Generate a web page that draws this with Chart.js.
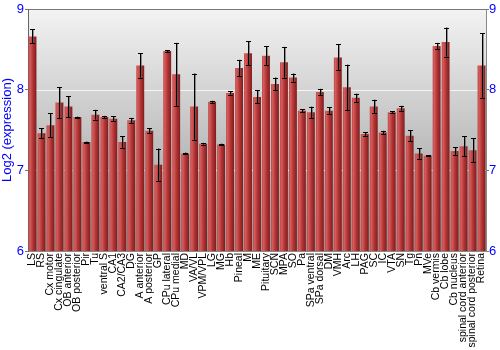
<!DOCTYPE html>
<html>
<head>
<meta charset="utf-8">
<script src="https://cdn.jsdelivr.net/npm/chart.js@4/dist/chart.umd.min.js"></script>
<style>
html,body{margin:0;padding:0;background:#fff;}
#wrap{width:500px;height:350px;}
</style>
</head>
<body>
<div id="wrap"><canvas id="c" width="500" height="350"></canvas></div>
<script>
const categories = ["LS","RS","Cx motor","Cx cingulate","OB anterior","OB posterior","Pir","Tu","ventral S","CA1","CA2/CA3","DG","A anterior","A posterior","GP","CPu lateral","CPu medial","MD","VA/VL","VPM/VPL","LG","MG","Hb","Pineal","M","ME","Pituitary","SCN","MPA","SO","Pa","SPa ventral","SPa dorsal","DM","VMH","Arc","LH","PAG","SC","IC","VTA","SN","Tg","Pn","MVe","Cb vermis","Cb lobe","Cb nucleus","spinal cord anterior","spinal cord posterior","Retina"];
const values = [8.66,7.46,7.56,7.84,7.79,7.66,7.35,7.69,7.66,7.64,7.35,7.62,8.30,7.49,7.07,8.48,8.19,7.21,7.79,7.33,7.85,7.32,7.96,8.27,8.45,7.91,8.42,8.07,8.34,8.15,7.74,7.72,7.97,7.74,8.40,8.03,7.90,7.45,7.79,7.47,7.72,7.77,7.43,7.21,7.18,8.54,8.59,7.24,7.30,7.25,8.30];
const errors = [0.087,0.062,0.15,0.19,0.13,0.006,0.006,0.06,0.015,0.03,0.07,0.03,0.15,0.03,0.2,0.012,0.39,0.01,0.41,0.01,0.012,0.01,0.02,0.1,0.15,0.08,0.12,0.08,0.19,0.05,0.02,0.07,0.04,0.04,0.16,0.28,0.05,0.02,0.085,0.02,0.013,0.03,0.07,0.065,0.006,0.04,0.18,0.047,0.12,0.15,0.40];
const yTicks = [6,7,8,9];

const FONT = "'Liberation Sans', Arial, sans-serif";
const BAR_PCT = 0.88;

const bgPlugin = {
  id: 'bg',
  beforeDraw(chart) {
    const {ctx, chartArea: a, scales} = chart;
    ctx.save();
    const g = ctx.createLinearGradient(0, a.top, 0, a.bottom);
    g.addColorStop(0, '#f3f3f3');
    g.addColorStop(1, '#959595');
    ctx.fillStyle = g;
    ctx.fillRect(a.left, a.top, a.right - a.left, a.bottom - a.top);
    const y = scales.y;
    ctx.lineWidth = 1;
    const y8 = Math.round(y.getPixelForValue(8)) + 0.5;
    ctx.strokeStyle = 'rgba(255,255,255,0.75)';
    ctx.beginPath(); ctx.moveTo(a.left, y8); ctx.lineTo(a.right, y8); ctx.stroke();
    const y7 = Math.round(y.getPixelForValue(7)) + 0.5;
    ctx.setLineDash([3, 3]);
    ctx.strokeStyle = 'rgba(255,255,255,0.85)';
    ctx.beginPath(); ctx.moveTo(a.left, y7); ctx.lineTo(a.right, y7); ctx.stroke();
    ctx.setLineDash([]);
    const y9 = Math.round(y.getPixelForValue(9)) + 0.5;
    ctx.strokeStyle = '#777';
    ctx.beginPath(); ctx.moveTo(a.left, y9); ctx.lineTo(a.right, y9); ctx.stroke();
    ctx.restore();
  }
};

const errPlugin = {
  id: 'errbars',
  afterDatasetsDraw(chart) {
    const {ctx} = chart;
    const meta = chart.getDatasetMeta(0);
    const y = chart.scales.y;
    ctx.save();
    meta.data.forEach((el, i) => {
      const x = Math.round(el.x) + 0.5;
      const t = y.getPixelForValue(values[i] + errors[i]);
      const b = y.getPixelForValue(values[i] - errors[i]);
      ctx.lineWidth = 1;
      ctx.strokeStyle = 'rgba(90,90,90,0.6)';
      ctx.beginPath(); ctx.moveTo(x + 1, t); ctx.lineTo(x + 1, b); ctx.stroke();
      ctx.strokeStyle = '#000';
      ctx.beginPath();
      ctx.moveTo(x, t); ctx.lineTo(x, b);
      ctx.moveTo(x - 2.5, Math.round(t) + 0.5); ctx.lineTo(x + 2.5, Math.round(t) + 0.5);
      ctx.moveTo(x - 2.5, Math.round(b) + 0.5); ctx.lineTo(x + 2.5, Math.round(b) + 0.5);
      ctx.stroke();
    });
    ctx.restore();
  }
};

function barFill(context) {
  const chart = context.chart;
  const xs = chart.scales && chart.scales.x;
  if (!xs || !chart.chartArea || context.dataIndex === undefined) return '#b83a3a';
  const cx = xs.getPixelForValue(context.dataIndex);
  const w = (xs.width / categories.length) * BAR_PCT;
  if (!Number.isFinite(cx) || !Number.isFinite(w) || w <= 0) return '#b83a3a';
  const x0 = cx - w / 2;
  const g = chart.ctx.createLinearGradient(x0, 0, x0 + w, 0);
  g.addColorStop(0, '#bf4848');
  g.addColorStop(0.2, '#d45c5c');
  g.addColorStop(0.55, '#b43434');
  g.addColorStop(1, '#7e1d1d');
  return g;
}

new Chart(document.getElementById('c'), {
  type: 'bar',
  data: {
    labels: categories,
    datasets: [{
      data: values,
      backgroundColor: barFill,
      borderWidth: 0,
      barPercentage: BAR_PCT,
      categoryPercentage: 1.0
    }]
  },
  options: {
    responsive: false,
    animation: false,
    events: [],
    layout: { padding: { top: 9, left: 0, right: 0, bottom: 0 } },
    plugins: { legend: { display: false }, tooltip: { enabled: false } },
    scales: {
      x: {
        type: 'category',
        offset: true,
        grid: { display: false, drawTicks: false },
        border: { display: true, color: '#888' },
        ticks: {
          autoSkip: false, maxRotation: 90, minRotation: 90, padding: 2,
          color: '#000', font: { family: FONT, size: 10.5 }
        },
        afterFit(s) { s.height = 99; }
      },
      y: {
        position: 'left',
        min: 6, max: 9,
        afterBuildTicks(s) { s.ticks = yTicks.map(v => ({ value: v })); },
        grid: { drawOnChartArea: false, drawTicks: true, tickLength: 3, color: '#777' },
        border: { display: true, color: '#666' },
        ticks: { color: '#0000ff', padding: 1, font: { family: FONT, size: 13 } },
        title: { display: true, text: 'Log2 (expression)', color: '#0000ff', padding: 0, font: { family: FONT, size: 13 } },
        afterFit(s) { s.width = 28; }
      },
      y2: {
        position: 'right',
        min: 6, max: 9,
        afterBuildTicks(s) { s.ticks = yTicks.map(v => ({ value: v })); },
        grid: { drawOnChartArea: false, drawTicks: true, tickLength: 3, color: '#777' },
        border: { display: true, color: '#888' },
        ticks: { color: '#0000ff', padding: 0, font: { family: FONT, size: 13 } },
        afterFit(s) { s.width = 14; }
      }
    }
  },
  plugins: [bgPlugin, errPlugin]
});
</script>
</body>
</html>
